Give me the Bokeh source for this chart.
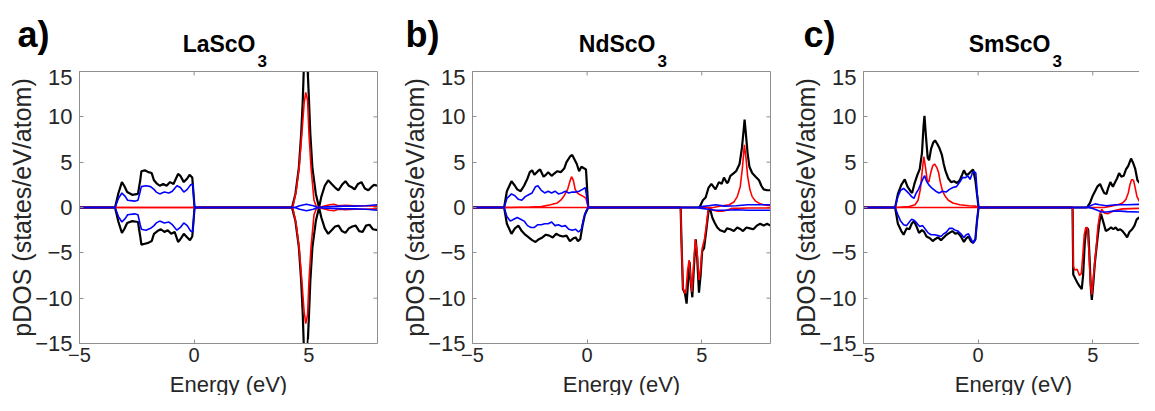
from bokeh.plotting import figure
from bokeh.layouts import row, column
from bokeh.models import LinearAxis, FixedTicker, Range1d, ColumnDataSource
from bokeh.core.properties import value
from bokeh.embed import file_html
from bokeh.resources import INLINE

# ---------------- data (energy eV, pDOS states/eV/atom) ----------------
X_TICKS = [-5, 0, 5]
Y_TICKS = [-15, -10, -5, 0, 5, 10, 15]
PANEL_TAGS = ["a)", "b)", "c)"]
TITLES = ["LaScO", "NdScO", "SmScO"]
TITLE_SUB = "3"
X_LABEL = "Energy (eV)"
Y_LABEL = "pDOS (states/eV/atom)"

# ---- a) LaScO3 ----
A_TOT_UP = [(-5, 0), (-3.45, 0), (-3.3, 1.6), (-3.15, 2.8), (-3.05, 2.4), (-2.92, 1.7), (-2.7, 1.4), (-2.45, 1.5),
            (-2.35, 3.0), (-2.3, 4.0), (-2.15, 4.1), (-2.0, 3.9), (-1.85, 3.8), (-1.75, 3.0), (-1.65, 2.7), (-1.5, 2.4),
            (-1.35, 2.6), (-1.2, 2.4), (-1.05, 2.8), (-0.9, 2.6), (-0.7, 3.7), (-0.6, 3.5), (-0.45, 2.8), (-0.3, 3.2),
            (-0.2, 3.6), (-0.08, 3.3), (0.02, 0), (4.27, 0), (4.42, 1.5), (4.57, 4.4), (4.67, 8.1), (4.74, 11.8),
            (4.8, 16.5), (4.93, 16.5), (5.0, 12.5), (5.07, 8.1), (5.16, 4.4), (5.31, 1.5), (5.45, 0), (5.55, 1.2),
            (5.7, 2.4), (5.85, 3.0), (6.0, 2.6), (6.15, 2.2), (6.3, 1.9), (6.45, 2.5), (6.6, 2.9), (6.75, 2.4),
            (6.9, 2.2), (7.0, 2.0), (7.15, 2.6), (7.3, 2.8), (7.45, 2.1), (7.6, 1.9), (7.75, 2.3), (7.85, 2.5), (8.0, 2.4)]
A_TOT_DN = [(-5, 0), (-3.45, 0), (-3.3, -1.6), (-3.15, -2.8), (-3.05, -2.4), (-2.92, -1.7), (-2.7, -1.5), (-2.45, -1.6),
            (-2.35, -3.2), (-2.3, -4.1), (-2.15, -4.0), (-2.0, -3.9), (-1.85, -3.7), (-1.75, -2.9), (-1.6, -2.6),
            (-1.45, -2.4), (-1.3, -2.7), (-1.15, -2.5), (-1.0, -2.9), (-0.85, -2.7), (-0.7, -3.8), (-0.6, -3.5),
            (-0.45, -2.9), (-0.3, -3.3), (-0.18, -3.6), (-0.08, -3.2), (0.02, 0), (4.27, 0), (4.42, -1.5),
            (4.57, -4.4), (4.67, -8.1), (4.74, -11.8), (4.8, -16.5), (4.93, -16.5), (5.0, -12.5), (5.07, -8.1),
            (5.16, -4.4), (5.31, -1.5), (5.45, 0), (5.55, -1.1), (5.7, -2.3), (5.85, -2.9), (6.0, -2.5), (6.15, -2.1),
            (6.3, -2.0), (6.45, -2.6), (6.6, -2.8), (6.75, -2.3), (6.9, -2.1), (7.05, -2.0), (7.2, -2.6), (7.35, -2.7),
            (7.5, -2.0), (7.65, -1.9), (7.8, -2.4), (8.0, -2.5)]
A_RED_UP = [(-5, 0), (4.3, 0), (4.45, 1.8), (4.58, 4.4), (4.7, 8.1), (4.8, 11.5), (4.87, 12.7), (4.95, 11.8),
            (5.01, 8.1), (5.1, 4.4), (5.23, 0.8), (5.35, 0), (5.6, 0.1), (5.9, 0.3), (6.1, 0.35), (6.3, 0.2),
            (6.6, 0.25), (7.0, 0.2), (7.4, 0.2), (8.0, 0.15)]
A_RED_DN = [(-5, 0), (4.3, 0), (4.45, -1.8), (4.58, -4.4), (4.7, -8.1), (4.8, -11.5), (4.87, -12.8), (4.95, -11.8),
            (5.01, -8.1), (5.1, -4.4), (5.23, -0.8), (5.35, 0), (5.6, -0.1), (5.9, -0.3), (6.1, -0.35), (6.3, -0.2),
            (6.6, -0.25), (7.0, -0.2), (7.4, -0.2), (8.0, -0.15)]
A_BLUE_UP = [(-5, 0), (-3.45, 0), (-3.3, 1.0), (-3.15, 1.6), (-3.0, 1.2), (-2.9, 0.8), (-2.6, 0.7), (-2.45, 0.8),
             (-2.35, 1.8), (-2.3, 2.3), (-2.1, 2.4), (-1.9, 2.3), (-1.75, 2.0), (-1.65, 1.7), (-1.5, 1.5), (-1.3, 1.7),
             (-1.1, 1.6), (-0.95, 1.8), (-0.75, 2.4), (-0.6, 2.2), (-0.45, 1.7), (-0.3, 2.0), (-0.15, 2.5),
             (-0.06, 2.6), (0.02, 0), (4.4, 0), (4.6, 0.2), (4.9, 0.35), (5.2, 0.2), (5.4, 0), (5.6, 0.05),
             (6.0, 0.1), (6.5, 0.15), (7.0, 0.15), (7.5, 0.2), (8.0, 0.3)]
A_BLUE_DN = [(-5, 0), (-3.45, 0), (-3.3, -1.0), (-3.15, -1.6), (-3.0, -1.2), (-2.9, -0.8), (-2.6, -0.7), (-2.45, -0.8),
             (-2.35, -1.9), (-2.3, -2.4), (-2.1, -2.5), (-1.9, -2.3), (-1.75, -2.0), (-1.65, -1.7), (-1.5, -1.5),
             (-1.3, -1.7), (-1.1, -1.6), (-0.95, -1.9), (-0.75, -2.5), (-0.6, -2.2), (-0.45, -1.7), (-0.3, -2.0),
             (-0.15, -2.6), (-0.06, -2.7), (0.02, 0), (4.4, 0), (4.6, -0.2), (4.9, -0.35), (5.2, -0.2), (5.4, 0),
             (5.6, -0.05), (6.0, -0.1), (6.5, -0.15), (7.0, -0.15), (7.5, -0.2), (8.0, -0.3)]

# ---- b) NdScO3 ----
B_TOT_UP = [(-5, 0), (-3.62, 0), (-3.5, 1.8), (-3.3, 2.9), (-3.15, 2.4), (-3.05, 2.0), (-2.9, 1.8), (-2.75, 2.4),
            (-2.6, 3.2), (-2.5, 3.9), (-2.4, 4.1), (-2.3, 3.6), (-2.15, 4.0), (-2.05, 4.2), (-1.9, 3.4), (-1.8, 3.6),
            (-1.7, 3.9), (-1.55, 3.5), (-1.45, 3.7), (-1.3, 4.0), (-1.15, 3.9), (-1.0, 4.3), (-0.9, 5.0), (-0.75, 5.6),
            (-0.65, 5.8), (-0.55, 5.3), (-0.45, 4.8), (-0.35, 4.0), (-0.25, 4.5), (-0.12, 4.3), (-0.05, 4.2),
            (0.05, 0), (4.9, 0), (5.05, 0.8), (5.17, 1.1), (5.3, 2.2), (5.42, 2.6), (5.6, 2.0), (5.75, 2.8),
            (5.87, 2.6), (5.97, 3.3), (6.1, 2.7), (6.15, 2.8), (6.25, 3.5), (6.4, 3.8), (6.5, 4.0), (6.65, 4.8),
            (6.75, 6.5), (6.82, 8.3), (6.87, 9.7), (6.93, 8.0), (7.0, 6.0), (7.08, 4.5), (7.2, 3.8), (7.35, 3.4),
            (7.5, 3.0), (7.6, 2.4), (7.7, 2.0), (7.85, 1.9), (8.0, 1.9)]
B_TOT_DN = [(-5, 0), (-3.62, 0), (-3.5, -1.8), (-3.3, -2.9), (-3.15, -2.3), (-3.0, -2.0), (-2.85, -2.6), (-2.7, -3.0),
            (-2.55, -3.3), (-2.4, -3.6), (-2.25, -3.8), (-2.1, -3.5), (-1.95, -3.3), (-1.8, -3.0), (-1.65, -3.1),
            (-1.5, -3.3), (-1.35, -2.9), (-1.2, -3.1), (-1.05, -3.2), (-0.9, -3.1), (-0.75, -3.7), (-0.6, -3.4),
            (-0.5, -3.3), (-0.4, -3.7), (-0.3, -3.5), (-0.2, -2.0), (-0.1, -0.8), (0.05, 0), (4.08, 0), (4.12, -4.0),
            (4.18, -9.0), (4.27, -9.5), (4.34, -10.6), (4.41, -8.0), (4.47, -6.0), (4.53, -8.5), (4.59, -9.9),
            (4.66, -6.5), (4.74, -3.5), (4.8, -5.5), (4.88, -9.4), (4.95, -7.5), (5.02, -4.8), (5.1, -4.5),
            (5.2, -2.5), (5.3, -0.3), (5.35, 0), (5.46, -1.1), (5.57, -1.7), (5.68, -2.2), (5.8, -2.5), (5.9, -2.6),
            (6.0, -2.7), (6.1, -2.3), (6.25, -2.4), (6.4, -2.6), (6.55, -2.2), (6.7, -2.4), (6.8, -2.6), (6.95, -2.2),
            (7.1, -2.3), (7.25, -2.4), (7.4, -2.0), (7.55, -1.8), (7.7, -2.0), (7.85, -1.8), (8.0, -2.0)]
B_RED_UP = [(-5, 0), (-3.6, 0), (-2.5, 0.05), (-2.0, 0.1), (-1.6, 0.3), (-1.3, 0.5), (-1.15, 0.8), (-1.0, 1.3),
            (-0.85, 2.0), (-0.75, 2.9), (-0.68, 3.4), (-0.6, 3.0), (-0.52, 2.0), (-0.42, 1.6), (-0.3, 1.4),
            (-0.15, 1.2), (-0.05, 1.0), (0.05, 0), (5.5, 0), (5.9, 0.2), (6.2, 0.3), (6.4, 0.6), (6.55, 1.2),
            (6.68, 2.3), (6.78, 4.5), (6.86, 6.9), (6.93, 5.5), (7.0, 3.5), (7.1, 2.0), (7.2, 1.2), (7.35, 0.7),
            (7.55, 0.4), (7.8, 0.25), (8.0, 0.2)]
B_RED_DN = [(-5, 0), (4.08, 0), (4.12, -4.0), (4.18, -8.8), (4.26, -9.5), (4.32, -9.0), (4.38, -7.0), (4.45, -5.8),
            (4.52, -8.0), (4.57, -9.3), (4.63, -7.0), (4.72, -3.5), (4.8, -5.0), (4.88, -8.0), (4.94, -7.0),
            (5.02, -4.5), (5.12, -3.5), (5.2, -2.0), (5.28, -0.3), (5.33, 0), (5.5, -0.3), (5.7, -0.4), (5.9, -0.4),
            (6.1, -0.3), (6.3, -0.1), (6.6, -0.1), (7.0, -0.05), (8.0, -0.05)]
B_BLUE_UP = [(-5, 0), (-3.62, 0), (-3.5, 1.0), (-3.3, 1.5), (-3.15, 1.3), (-3.0, 0.9), (-2.85, 0.8), (-2.7, 1.2),
             (-2.55, 1.4), (-2.4, 1.6), (-2.25, 2.3), (-2.15, 2.4), (-2.0, 1.9), (-1.85, 1.6), (-1.7, 1.8),
             (-1.55, 1.6), (-1.4, 1.8), (-1.25, 1.5), (-1.1, 1.6), (-0.95, 1.8), (-0.8, 1.6), (-0.65, 1.7),
             (-0.5, 1.7), (-0.35, 1.8), (-0.2, 2.0), (-0.08, 2.2), (0.05, 0), (4.8, 0), (5.0, 0.1), (5.3, 0.2),
             (5.6, 0.3), (6.0, 0.15), (6.5, 0.2), (7.0, 0.3), (7.5, 0.3), (8.0, 0.3)]
B_BLUE_DN = [(-5, 0), (-3.62, 0), (-3.5, -1.0), (-3.35, -1.5), (-3.2, -1.3), (-3.05, -1.1), (-2.9, -1.3),
             (-2.75, -1.5), (-2.6, -2.0), (-2.45, -2.2), (-2.3, -2.2), (-2.15, -1.9), (-2.0, -1.9), (-1.85, -1.8),
             (-1.7, -1.8), (-1.55, -1.6), (-1.4, -2.0), (-1.25, -1.9), (-1.1, -2.1), (-0.95, -2.0), (-0.8, -2.4),
             (-0.65, -2.5), (-0.5, -2.4), (-0.38, -2.7), (-0.25, -2.4), (-0.15, -1.2), (-0.05, -0.4), (0.05, 0),
             (4.8, 0), (5.0, -0.1), (5.3, -0.2), (5.6, -0.3), (6.0, -0.3), (6.5, -0.25), (7.0, -0.3), (7.5, -0.3),
             (8.0, -0.3)]

# ---- c) SmScO3 ----
C_TOT_UP = [(-5, 0), (-3.62, 0), (-3.5, 1.5), (-3.35, 2.5), (-3.2, 3.1), (-3.08, 2.3), (-2.95, 1.8), (-2.88, 1.6),
            (-2.78, 2.6), (-2.65, 3.6), (-2.55, 4.2), (-2.45, 6.0), (-2.38, 9.0), (-2.34, 10.1), (-2.28, 8.0),
            (-2.2, 5.5), (-2.14, 5.2), (-2.05, 6.5), (-1.95, 7.2), (-1.88, 7.4), (-1.78, 7.0), (-1.68, 6.5),
            (-1.58, 5.8), (-1.5, 4.8), (-1.42, 4.0), (-1.3, 3.2), (-1.18, 2.8), (-1.05, 2.9), (-0.92, 2.7),
            (-0.8, 3.0), (-0.7, 3.6), (-0.62, 4.1), (-0.52, 3.6), (-0.42, 3.7), (-0.3, 4.0), (-0.22, 4.2),
            (-0.12, 3.0), (-0.05, 1.5), (0.02, 0), (4.75, 0), (4.88, 0.5), (5.0, 1.3), (5.1, 1.8), (5.2, 2.3),
            (5.32, 2.6), (5.42, 2.0), (5.5, 1.6), (5.6, 1.5), (5.68, 2.2), (5.77, 2.8), (5.88, 2.3), (5.98, 2.8),
            (6.06, 3.2), (6.15, 3.8), (6.25, 3.4), (6.35, 3.5), (6.45, 4.2), (6.55, 4.6), (6.67, 5.4), (6.75, 5.0),
            (6.85, 4.3), (6.95, 3.0), (7.05, 2.7), (7.15, 2.9), (7.28, 2.5), (7.4, 2.0), (7.5, 1.8), (7.6, 2.2),
            (7.7, 2.2), (7.8, 2.1), (8.0, 2.0)]
C_TOT_DN = [(-5, 0), (-3.62, 0), (-3.5, -1.8), (-3.35, -2.6), (-3.25, -3.0), (-3.12, -2.3), (-3.0, -2.4),
            (-2.9, -1.8), (-2.8, -1.5), (-2.7, -2.0), (-2.58, -2.8), (-2.45, -2.5), (-2.35, -2.7), (-2.25, -3.2),
            (-2.1, -3.4), (-1.98, -3.7), (-1.88, -3.5), (-1.75, -3.3), (-1.62, -3.6), (-1.5, -3.3), (-1.38, -3.0),
            (-1.25, -2.8), (-1.12, -2.6), (-1.0, -2.9), (-0.88, -2.8), (-0.75, -3.2), (-0.62, -3.8), (-0.52, -3.4),
            (-0.42, -3.2), (-0.32, -3.7), (-0.22, -3.9), (-0.12, -3.5), (-0.05, -1.5), (0.02, 0), (4.12, 0),
            (4.15, -7.4), (4.25, -7.9), (4.33, -8.3), (4.43, -8.7), (4.52, -9.0), (4.58, -7.5), (4.65, -4.0),
            (4.72, -2.2), (4.8, -2.4), (4.86, -5.5), (4.92, -9.0), (4.96, -10.2), (5.02, -8.5), (5.09, -6.2),
            (5.16, -4.5), (5.23, -2.9), (5.3, -1.5), (5.36, -0.7), (5.45, -1.5), (5.57, -2.6), (5.7, -2.4),
            (5.8, -2.2), (5.9, -2.4), (6.0, -2.2), (6.1, -2.5), (6.2, -2.4), (6.3, -2.6), (6.42, -3.0), (6.5, -3.3),
            (6.6, -2.7), (6.72, -2.4), (6.82, -2.0), (6.92, -1.3), (7.02, -1.1), (7.12, -1.6), (7.2, -2.1),
            (7.3, -1.9), (7.45, -1.6), (7.6, -1.8), (7.75, -1.6), (8.0, -1.7)]
C_RED_UP = [(-5, 0), (-3.6, 0), (-3.0, 0.1), (-2.75, 0.3), (-2.62, 0.8), (-2.52, 2.0), (-2.44, 4.0), (-2.37, 5.6),
            (-2.3, 4.5), (-2.22, 3.0), (-2.15, 2.8), (-2.07, 3.8), (-1.98, 4.6), (-1.9, 4.8), (-1.8, 4.4),
            (-1.72, 3.8), (-1.65, 2.8), (-1.55, 1.8), (-1.45, 1.3), (-1.3, 0.8), (-1.1, 0.5), (-0.8, 0.3),
            (-0.4, 0.2), (-0.1, 0.15), (0.02, 0), (5.5, 0), (5.8, 0.15), (6.1, 0.3), (6.3, 0.5), (6.45, 0.9),
            (6.55, 1.6), (6.63, 2.6), (6.7, 3.1), (6.78, 3.0), (6.85, 2.2), (6.93, 1.2), (7.05, 0.6), (7.2, 0.4),
            (7.5, 0.3), (8.0, 0.2)]
C_RED_DN = [(-5, 0), (4.12, 0), (4.15, -6.5), (4.22, -6.9), (4.32, -6.8), (4.42, -7.5), (4.5, -7.3), (4.56, -5.5),
            (4.63, -3.0), (4.7, -2.2), (4.77, -2.3), (4.84, -5.0), (4.9, -8.5), (4.96, -9.6), (5.02, -8.0),
            (5.09, -6.0), (5.15, -4.5), (5.23, -2.0), (5.32, -0.6), (5.4, -0.2), (5.5, -0.6), (5.65, -0.7),
            (5.8, -0.5), (6.0, -0.3), (6.3, -0.15), (7.0, -0.1), (8.0, -0.1)]
C_BLUE_UP = [(-5, 0), (-3.62, 0), (-3.5, 1.2), (-3.38, 1.9), (-3.25, 2.1), (-3.12, 1.8), (-3.0, 1.5), (-2.9, 1.2),
             (-2.8, 1.0), (-2.7, 1.6), (-2.6, 2.0), (-2.5, 2.6), (-2.4, 3.2), (-2.33, 3.5), (-2.25, 2.9),
             (-2.15, 2.5), (-2.0, 2.1), (-1.85, 1.8), (-1.7, 1.6), (-1.55, 1.8), (-1.4, 1.7), (-1.25, 2.0),
             (-1.1, 2.2), (-0.95, 2.3), (-0.8, 2.8), (-0.68, 3.3), (-0.55, 3.3), (-0.45, 3.5), (-0.35, 3.1),
             (-0.25, 3.8), (-0.18, 4.0), (-0.1, 3.8), (-0.04, 1.5), (0.02, 0), (4.7, 0), (4.9, 0.2), (5.1, 0.4),
             (5.3, 0.3), (5.6, 0.2), (6.0, 0.3), (6.5, 0.3), (7.0, 0.35), (7.5, 0.3), (8.0, 0.3)]
C_BLUE_DN = [(-5, 0), (-3.62, 0), (-3.5, -0.8), (-3.38, -1.5), (-3.25, -1.9), (-3.12, -2.0), (-3.0, -1.6),
             (-2.9, -1.3), (-2.8, -1.4), (-2.68, -1.7), (-2.55, -2.1), (-2.42, -2.0), (-2.3, -2.4), (-2.18, -2.8),
             (-2.05, -3.0), (-1.9, -3.0), (-1.75, -3.1), (-1.62, -3.2), (-1.5, -2.9), (-1.38, -2.7), (-1.25, -2.3),
             (-1.12, -2.3), (-1.0, -2.5), (-0.88, -2.6), (-0.75, -2.9), (-0.62, -3.3), (-0.52, -3.0), (-0.42, -2.9),
             (-0.32, -3.4), (-0.22, -3.9), (-0.12, -3.6), (-0.05, -1.5), (0.02, 0), (4.8, 0), (5.0, -0.1),
             (5.2, -0.3), (5.4, -0.5), (5.6, -0.5), (5.9, -0.4), (6.2, -0.4), (6.5, -0.45), (7.0, -0.5),
             (7.5, -0.35), (8.0, -0.3)]

# ---------------- styling / layout constants ----------------
FONT = "Liberation Sans"
AX_COLOR = "#8f8f8f"
TXT_COLOR = "#262626"
PX_PER_EV = 298 / 13
PX_PER_UNIT = 272 / 30
TICK_LEN = 4
TOTAL_W = 1139
HEADER_H = 69
FOOTER_H = 20
RAISE = 0.31          # text glyphs sit this fraction of their size below the given baseline


def xy(pairs):
    return dict(x=[p[0] for p in pairs], y=[p[1] for p in pairs])


def plain_axis(ax):
    ax.axis_line_color = AX_COLOR
    ax.axis_line_width = 1
    ax.major_tick_line_color = AX_COLOR
    ax.major_tick_in = TICK_LEN
    ax.major_tick_out = 0
    ax.minor_tick_line_color = None


def strip(height):
    s = figure(frame_width=TOTAL_W, frame_height=height, x_range=Range1d(0, TOTAL_W),
               y_range=Range1d(0, height), output_backend="svg", toolbar_location=None,
               x_axis_type=None, y_axis_type=None, min_border=0,
               background_fill_color="white", border_fill_color="white")
    s.outline_line_color = None
    s.grid.visible = False
    return s


def make_panel(curves, x_end, left, right, with_right):
    p = figure(frame_width=round((x_end + 5) * PX_PER_EV), frame_height=272,
               x_range=Range1d(-5, x_end), y_range=Range1d(-15, 15),
               output_backend="svg", toolbar_location=None,
               min_border_left=left, min_border_right=right, min_border_top=2, min_border_bottom=32,
               background_fill_color="white", border_fill_color="white")
    p.outline_line_color = None
    p.grid.visible = False
    p.xaxis.ticker = FixedTicker(ticks=X_TICKS)
    p.yaxis.ticker = FixedTicker(ticks=Y_TICKS)
    p.yaxis.axis_label = Y_LABEL
    for ax in (p.xaxis[0], p.yaxis[0]):
        plain_axis(ax)
        ax.major_label_text_font = FONT
        ax.major_label_text_color = TXT_COLOR
    p.xaxis.major_label_text_font_size = "20px"
    p.yaxis.major_label_text_font_size = "22px"
    p.xaxis.major_label_standoff = 4
    p.yaxis.major_label_standoff = 7
    p.yaxis.axis_label_standoff = -4
    p.yaxis.axis_label_text_font = FONT
    p.yaxis.axis_label_text_font_size = "25px"
    p.yaxis.axis_label_text_font_style = "normal"
    p.yaxis.axis_label_text_color = TXT_COLOR

    # box lines on top (and right), ticks pointing inward
    top = LinearAxis(ticker=FixedTicker(ticks=[]), major_label_standoff=0)
    plain_axis(top)
    p.add_layout(top, "above")
    p.segment(x0=X_TICKS, y0=[15] * len(X_TICKS), x1=X_TICKS,
              y1=[15 - TICK_LEN / PX_PER_UNIT] * len(X_TICKS), line_color=AX_COLOR, line_width=1)
    if with_right:
        rax = LinearAxis(ticker=FixedTicker(ticks=[]), major_label_standoff=0)
        plain_axis(rax)
        p.add_layout(rax, "right")
        p.segment(x0=[x_end] * len(Y_TICKS), y0=Y_TICKS, x1=[x_end - TICK_LEN / PX_PER_EV] * len(Y_TICKS),
                  y1=Y_TICKS, line_color=AX_COLOR, line_width=1)

    tot_up, tot_dn, red_up, red_dn, blue_up, blue_dn = curves
    for data, color, w in ((tot_up, "black", 2.2), (tot_dn, "black", 2.2),
                           (red_up, "#ff0000", 1.6), (red_dn, "#ff0000", 1.6),
                           (blue_up, "#0000ff", 1.6), (blue_dn, "#0000ff", 1.6)):
        p.line("x", "y", source=ColumnDataSource(xy(data)), line_color=color, line_width=w)
    return p


# header strip: panel tags and titles (pixel coordinates inside the strip, y from its bottom)
TAG_X = [17, 405, 803]
TITLE_RIGHT_X = [255, 655, 1050]
TAG_SIZE, TITLE_SIZE, SUB_SIZE, XLAB_SIZE = 36, 23, 17, 22
header = strip(HEADER_H)
header.text(x=TAG_X, y=[24 + RAISE * TAG_SIZE] * 3, text=PANEL_TAGS, text_font=value(FONT),
            text_font_size=f"{TAG_SIZE}px", text_font_style="bold", text_color="black",
            text_align="left", text_baseline="alphabetic")
header.text(x=TITLE_RIGHT_X, y=[18.3 + RAISE * TITLE_SIZE] * 3, text=TITLES, text_font=value(FONT),
            text_font_size=f"{TITLE_SIZE}px", text_font_style="bold", text_color="black",
            text_align="right", text_baseline="alphabetic")
header.text(x=[v + 2 for v in TITLE_RIGHT_X], y=[3.0 + RAISE * SUB_SIZE] * 3, text=[TITLE_SUB] * 3,
            text_font=value(FONT), text_font_size=f"{SUB_SIZE}px", text_font_style="bold",
            text_color="black", text_align="left", text_baseline="alphabetic")

# footer strip: x-axis titles centred under each frame
XLABEL_X = [228, 621, 1013]
footer = strip(FOOTER_H)
footer.text(x=XLABEL_X, y=[4.6 + RAISE * XLAB_SIZE] * 3, text=[X_LABEL] * 3, text_font=value(FONT),
            text_font_size=f"{XLAB_SIZE}px", text_color=TXT_COLOR, text_align="center",
            text_baseline="alphabetic")

pa = make_panel((A_TOT_UP, A_TOT_DN, A_RED_UP, A_RED_DN, A_BLUE_UP, A_BLUE_DN), 8, 79, 16, True)
pb = make_panel((B_TOT_UP, B_TOT_DN, B_RED_UP, B_RED_DN, B_BLUE_UP, B_BLUE_DN), 8, 79, 14, True)
pc = make_panel((C_TOT_UP, C_TOT_DN, C_RED_UP, C_RED_DN, C_BLUE_UP, C_BLUE_DN), 7.04, 79, 0, False)

layout = column(header, row(pa, pb, pc, spacing=0), footer, spacing=0)
open("out.html", "w").write(file_html(layout, INLINE))
